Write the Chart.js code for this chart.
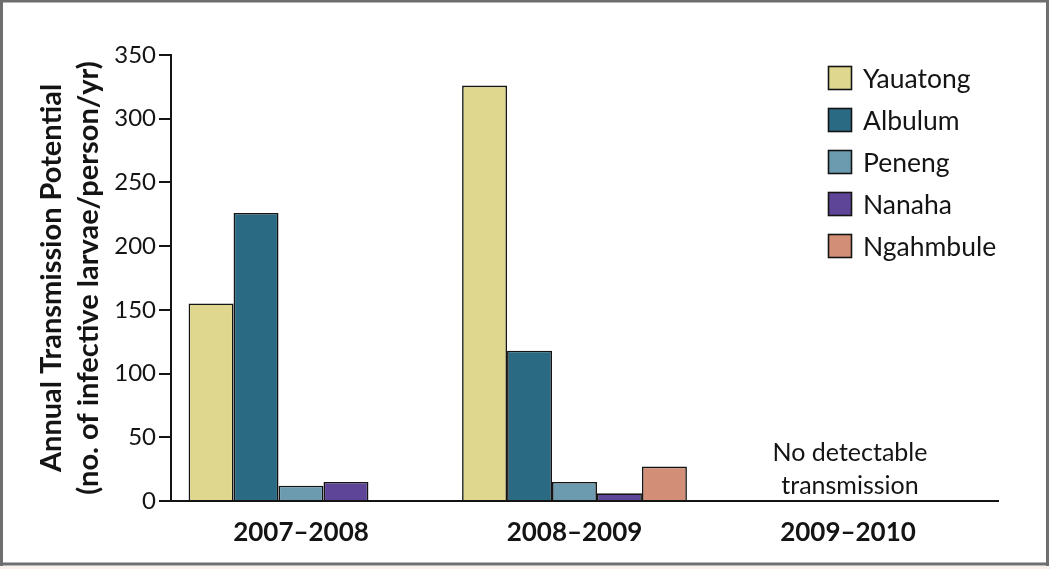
<!DOCTYPE html>
<html>
<head>
<meta charset="utf-8">
<script src="https://cdn.jsdelivr.net/npm/chart.js@4.4.1/dist/chart.umd.min.js"></script>
<style>
  html, body { margin: 0; padding: 0; background: #ffffff; }
  #wrap { position: relative; width: 1050px; height: 569px; }
</style>
</head>
<body>
<div id="wrap"><canvas id="c" width="1050" height="569"></canvas></div>
<script>
// ---- data ----
const categories = ['2007\u20132008', '2008\u20132009', '2009\u20132010'];
const seriesNames = ['Yauatong', 'Albulum', 'Peneng', 'Nanaha', 'Ngahmbule'];
const yauatong  = [155, 326, null];
const albulum   = [226, 118, null];
const peneng    = [12, 15, null];
const nanaha    = [15, 6, null];
const ngahmbule = [null, 27, null];
const yTicks = [0, 50, 100, 150, 200, 250, 300, 350];
const yTitle = ['Annual Transmission Potential', '(no. of infective larvae/person/yr)'];
const noteText = ['No detectable', 'transmission'];
const noteCategory = 2;

const colors = ['#e0d78e', '#2b6a83', '#6c9bb0', '#5e4597', '#d38e78'];
const seriesValues = [yauatong, albulum, peneng, nanaha, ngahmbule];

const FONT = 'Lato, "Open Sans", "DejaVu Sans", sans-serif';
const INK = '#141414';

const datasets = seriesNames.map((name, s) => ({
  label: name,
  data: categories.map((c, i) => ({ x: i, y: seriesValues[s][i] })),
  backgroundColor: colors[s],
  borderColor: INK,
  borderWidth: 1.6,
  borderSkipped: 'bottom',
  categoryPercentage: 0.822,
  barPercentage: 1.0
}));

const framePlugin = {
  id: 'frame',
  beforeDraw(chart) {
    const ctx = chart.ctx;
    ctx.save();
    ctx.fillStyle = '#ffffff';
    ctx.fillRect(0, 0, 1050, 569);
    ctx.fillStyle = '#fbf1ec';
    ctx.fillRect(0, 566, 1050, 3);
    ctx.fillStyle = '#6e6e6e';
    ctx.fillRect(0, 0, 1049, 2.5);      // top
    ctx.fillRect(0, 0, 3, 566);         // left
    ctx.fillRect(1046, 0, 3, 566);      // right
    ctx.fillRect(0, 562.5, 1049, 3);    // bottom
    ctx.restore();
  },
  afterDraw(chart) {
    const ctx = chart.ctx;
    ctx.save();
    // legend
    ctx.font = '26.5px ' + FONT;
    ctx.textBaseline = 'middle';
    ctx.textAlign = 'left';
    chart.data.datasets.forEach((ds, i) => {
      const cy = 78 + i * 42;
      ctx.fillStyle = ds.backgroundColor;
      ctx.fillRect(828.5, cy - 11.5, 23, 23);
      ctx.strokeStyle = INK;
      ctx.lineWidth = 1.6;
      ctx.strokeRect(828.5, cy - 11.5, 23, 23);
      ctx.fillStyle = INK;
      ctx.fillText(ds.label, 863, cy + 1);
    });
    // note
    const xs = chart.scales.x;
    const cx = xs.getPixelForValue(noteCategory);
    ctx.textAlign = 'center';
    ctx.fillStyle = INK;
    ctx.font = '25px ' + FONT;
    ctx.fillText(noteText[0], cx + 2, 453);
    ctx.fillText(noteText[1], cx + 2, 486);
    ctx.restore();
  }
};

new Chart(document.getElementById('c'), {
  type: 'bar',
  data: { datasets },
  options: {
    responsive: false,
    animation: false,
    events: [],
    layout: { padding: { left: 0, top: 55, right: 52, bottom: 0 } },
    plugins: {
      legend: { display: false },
      tooltip: { enabled: false }
    },
    scales: {
      x: {
        type: 'linear',
        offset: false,
        min: (171 - 301) / 273.5,
        max: (998 - 301) / 273.5,
        afterBuildTicks(scale) {
          scale.ticks = categories.map((c, i) => ({ value: i }));
        },
        afterFit(scale) { scale.height = 68; },
        grid: { display: false, drawTicks: false, offset: false },
        border: { display: true, color: INK, width: 2 },
        ticks: {
          autoSkip: false,
          maxRotation: 0,
          padding: 16,
          color: INK,
          font: { family: FONT, size: 26, weight: 'bold' },
          callback: (v) => categories[v]
        }
      },
      y: {
        min: 0,
        max: 350,
        afterBuildTicks(scale) {
          scale.ticks = yTicks.map(v => ({ value: v }));
        },
        afterFit(scale) { scale.width = 171; },
        grid: { display: true, drawOnChartArea: false, drawTicks: true, tickLength: 12, color: INK, lineWidth: 2 },
        border: { display: true, color: INK, width: 2 },
        ticks: {
          padding: 3,
          color: INK,
          font: { family: FONT, size: 24 }
        },
        title: {
          display: true,
          text: yTitle,
          color: INK,
          padding: { top: 34, bottom: 0 },
          font: { family: FONT, size: 29, weight: 'bold', lineHeight: 1.25 }
        }
      }
    }
  },
  plugins: [framePlugin]
});
</script>
</body>
</html>
